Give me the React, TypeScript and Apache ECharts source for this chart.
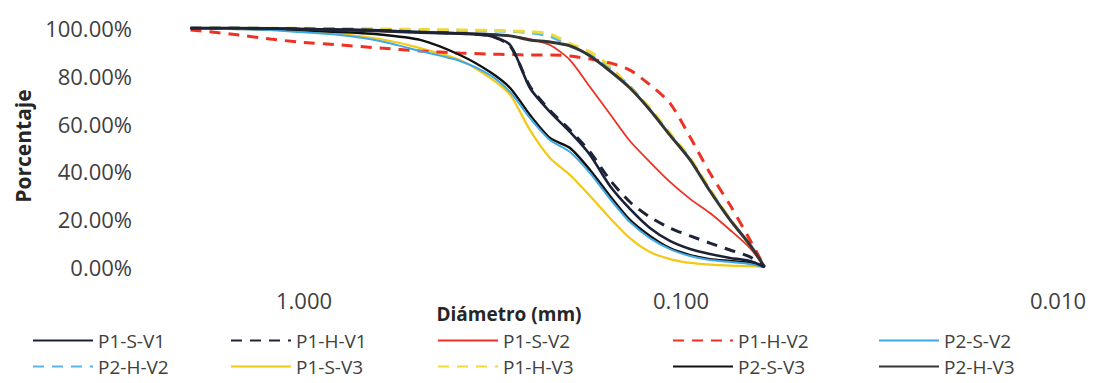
import React, { useEffect, useRef } from "react";
import * as echarts from "echarts";

// Particle diameters (mm)
const diameters = [2.0, 1.57, 1.23, 1.025, 0.803, 0.629, 0.492, 0.386, 0.321, 0.284, 0.2515, 0.2226, 0.197, 0.1743, 0.1543, 0.1366, 0.1209, 0.107, 0.0946, 0.0838, 0.0741, 0.0656, 0.06];

// Percent passing per sample
const p1sv1 = [100, 100, 99.8, 99.6, 99.4, 99.0, 98.3, 97.7, 96.7, 92.9, 74.9, 64.9, 56.5, 46.9, 33.9, 24.3, 16.3, 10.9, 7.5, 5.4, 3.8, 2.5, 0];
const p1hv1 = [100, 100, 99.8, 99.6, 99.4, 99.0, 98.3, 97.7, 96.7, 92.5, 75.5, 65.5, 57.3, 48.1, 36.4, 27.2, 20.9, 16.3, 13.0, 10.0, 7.1, 4.2, 0];
const p1sv2 = [100, 100, 99.8, 99.6, 99.2, 98.7, 98.1, 97.7, 97.3, 96.7, 95.3, 92.9, 86.6, 75.3, 64.0, 52.7, 43.9, 35.6, 28.5, 22.6, 15.5, 7.9, 0];
const p1hv2 = [99.2, 97.5, 95.4, 94.1, 92.9, 91.6, 90.4, 89.5, 89.1, 88.9, 88.7, 88.7, 88.3, 87.0, 85.4, 82.4, 76.2, 68.6, 54.4, 39.3, 25.9, 11.3, 0];
const p2sv2 = [100, 99.6, 99.2, 98.3, 97.1, 94.6, 90.4, 86.2, 80.3, 73.2, 62.3, 53.1, 48.1, 39.3, 28.5, 18.8, 12.1, 7.5, 4.6, 2.9, 2.1, 1.3, 0];
const p2hv2 = [100, 100, 99.8, 99.8, 99.6, 99.4, 99.2, 99.0, 98.8, 98.6, 98.0, 96.5, 92.5, 88.8, 83.0, 75.5, 66.0, 55.6, 45.2, 32.2, 19.8, 9.2, 0];
const p1sv3 = [100, 99.6, 99.2, 98.7, 97.5, 95.4, 91.6, 86.6, 79.1, 72.0, 57.3, 45.6, 38.5, 29.7, 20.5, 12.1, 6.3, 3.3, 1.7, 1.0, 0.6, 0.4, 0];
const p1hv3 = [100, 100, 100, 100, 99.8, 99.6, 99.4, 99.2, 99.0, 98.8, 98.5, 97.5, 93.5, 90.0, 84.1, 75.0, 66.5, 56.0, 45.6, 32.6, 20.0, 9.2, 0];
const p2sv3 = [100, 99.8, 99.4, 99.0, 98.3, 97.3, 95.0, 88.7, 81.6, 74.9, 63.6, 54.0, 49.8, 40.6, 29.7, 19.7, 13.0, 7.9, 5.0, 3.3, 2.5, 1.7, 0];
const p2hv3 = [100, 100, 99.8, 99.6, 99.2, 98.7, 98.1, 97.7, 97.3, 96.7, 95.0, 94.1, 92.5, 88.3, 82.0, 74.9, 65.7, 55.2, 44.8, 31.8, 19.7, 9.2, 0];

const seriesNames = ["P1-S-V1", "P1-H-V1", "P1-S-V2", "P1-H-V2", "P2-S-V2", "P2-H-V2", "P1-S-V3", "P1-H-V3", "P2-S-V3", "P2-H-V3"];
const seriesValues = [p1sv1, p1hv1, p1sv2, p1hv2, p2sv2, p2hv2, p1sv3, p1hv3, p2sv3, p2hv3];

const yTicks = [0, 20, 40, 60, 80, 100];

const FONT = "'Open Sans', 'Liberation Sans', sans-serif";

const styles: Record<string, { color: string; width: number; dashed: boolean; z: number }> = {
  "P1-S-V1": { color: "#1b2238", width: 2.6, dashed: false, z: 6 },
  "P1-H-V1": { color: "#1d2438", width: 3, dashed: true, z: 7 },
  "P1-S-V2": { color: "#ee3124", width: 1.8, dashed: false, z: 5 },
  "P1-H-V2": { color: "#ee3124", width: 3, dashed: true, z: 4 },
  "P2-S-V2": { color: "#3fa9e6", width: 2, dashed: false, z: 5 },
  "P2-H-V2": { color: "#5ab6ea", width: 3, dashed: true, z: 2 },
  "P1-S-V3": { color: "#f4c814", width: 2.2, dashed: false, z: 3 },
  "P1-H-V3": { color: "#eedb3a", width: 3, dashed: true, z: 3 },
  "P2-S-V3": { color: "#111111", width: 2.4, dashed: false, z: 4 },
  "P2-H-V3": { color: "#353535", width: 3, dashed: false, z: 5 },
};

const legendLeft = [32, 230, 437, 672, 878];
const legendTop = [331, 357];

export default function App() {
  const ref = useRef<HTMLDivElement>(null);
  useEffect(() => {
    if (!ref.current) return;
    const chart = echarts.init(ref.current, undefined, { renderer: "svg" });
    const series = seriesNames.map((name, i) => {
      const s = styles[name];
      return {
        name,
        type: "line",
        data: diameters.map((d, j) => [d, seriesValues[i][j]]),
        showSymbol: false,
        symbol: "none",
        smooth: 0.25,
        z: s.z,
        lineStyle: {
          color: s.color,
          width: s.width,
          type: s.dashed ? [11, 8] : "solid",
        },
        itemStyle: { color: s.color },
      };
    });
    const legends = seriesNames.map((name, i) => ({
      data: [name],
      left: legendLeft[i % 5],
      top: legendTop[Math.floor(i / 5)],
      itemWidth: 60,
      itemHeight: 12,
      padding: 0,
      itemStyle: { opacity: 0 },
      textStyle: { fontFamily: FONT, fontSize: 19, lineHeight: 19, color: "#404040" },
    }));
    chart.setOption({
      animation: false,
      backgroundColor: "#ffffff",
      grid: { left: 154, right: 48, top: 28, bottom: 116 },
      xAxis: {
        type: "log",
        logBase: 10,
        inverse: true,
        min: 0.01,
        max: 2.5,
        axisLine: { show: false },
        axisTick: { show: false },
        splitLine: { show: false },
        axisLabel: {
          margin: 22,
          fontFamily: FONT,
          fontSize: 22,
          color: "#404040",
          showMaxLabel: false,
          formatter: (v: number) => {
            const l = Math.log10(v);
            return Math.abs(l - Math.round(l)) < 1e-6 ? v.toFixed(3) : "";
          },
        },
      },
      yAxis: {
        type: "value",
        min: yTicks[0],
        max: yTicks[yTicks.length - 1],
        interval: 20,
        axisLine: { show: false },
        axisTick: { show: false },
        splitLine: { show: false },
        axisLabel: {
          margin: 22,
          fontFamily: FONT,
          fontSize: 22,
          color: "#404040",
          formatter: (v: number) => v.toFixed(2) + "%",
        },
      },
      legend: legends,
      graphic: [
        {
          type: "text",
          x: 23,
          y: 146,
          rotation: Math.PI / 2,
          style: {
            text: "Porcentaje",
            fontFamily: FONT,
            fontSize: 21,
            fontWeight: "bold",
            fill: "#262626",
            align: "center",
            verticalAlign: "middle",
          },
        },
        {
          type: "text",
          x: 509,
          y: 314,
          style: {
            text: "Diámetro (mm)",
            fontFamily: FONT,
            fontSize: 19,
            lineHeight: 19,
            fontWeight: "bold",
            fill: "#262626",
            align: "center",
            verticalAlign: "middle",
          },
        },
      ],
      series,
    });
    return () => chart.dispose();
  }, []);
  return (
    <div
      ref={ref}
      style={{ position: "absolute", left: 0, top: 0, width: 1106, height: 383 }}
    />
  );
}
